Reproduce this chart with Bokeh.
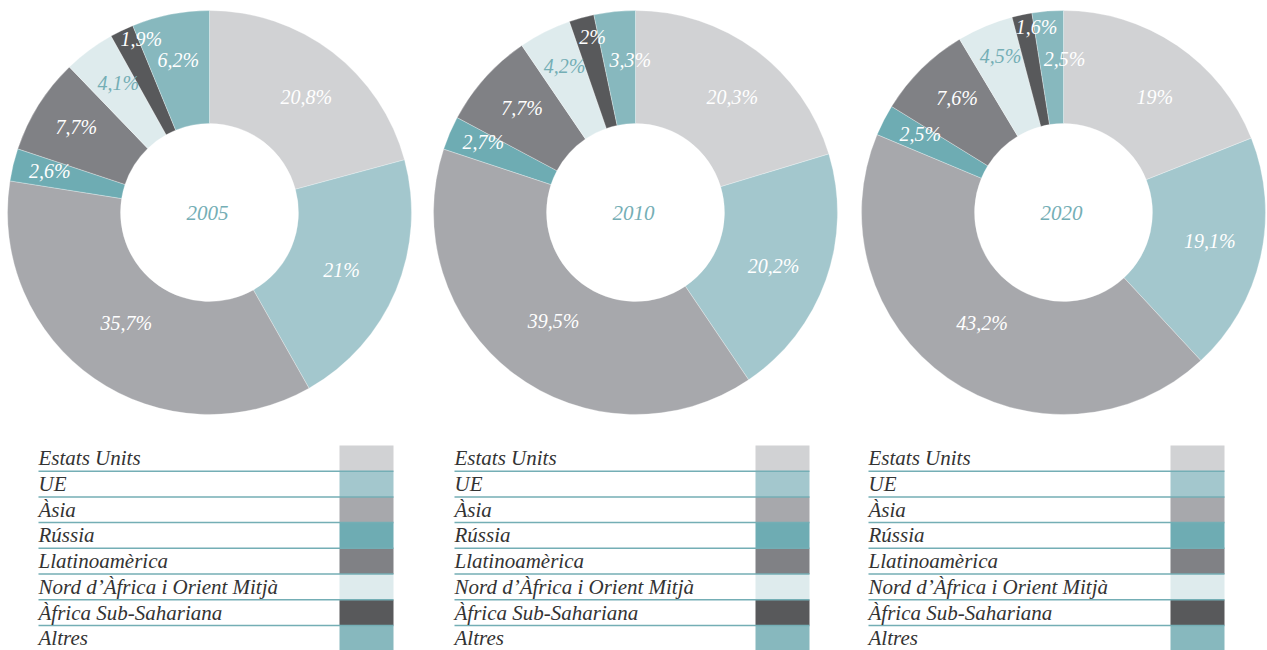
import math
from bokeh.plotting import figure
from bokeh.models import Range1d
from bokeh.core.properties import value
from bokeh.embed import file_html
from bokeh.resources import INLINE

# ---- data ----
categories = ["Estats Units", "UE", "Àsia", "Rússia", "Llatinoamèrica",
              "Nord d’Àfrica i Orient Mitjà", "Àfrica Sub-Sahariana", "Altres"]
years = ["2005", "2010", "2020"]
values_2005 = [20.8, 21.0, 35.7, 2.6, 7.7, 4.1, 1.9, 6.2]
values_2010 = [20.3, 20.2, 39.5, 2.7, 7.7, 4.2, 2.0, 3.3]
values_2020 = [19.0, 19.1, 43.2, 2.5, 7.6, 4.5, 1.6, 2.5]
series = [values_2005, values_2010, values_2020]

# ---- styles / layout ----
colors = ["#d1d2d4", "#a3c7cd", "#a7a8ac", "#6eacb3", "#808185",
          "#deebed", "#58595b", "#87b8be"]
label_colors = ["white", "white", "white", "white", "white",
                "#74aeb5", "white", "white"]
TEAL = "#74aeb5"
FONT = value("Liberation Serif")

centers_x = [209, 635, 1063]
center_y = 212
r_out, r_in = 202, 89
# label placement: (angle clockwise from top in degrees, radius)
label_pos = [
    [(39.9, 151), (113.4, 144), (217, 138), (284.7, 165), (302.6, 158), (324.8, 158), (338.5, 186), (348.5, 156)],
    [(39.9, 151), (111.0, 148), (217, 136), (295.0, 168), (312.6, 154), (334.2, 163), (346.3, 181), (358.1, 153)],
    [(38.4, 147), (100.9, 149), (216.4, 137), (298.6, 163), (317.0, 156), (338.1, 169), (351.7, 187), (0.4, 154)],
]
leg_text_x = [38, 454, 868]
leg_sw_x = [339, 755, 1170]
sw_w = 54
leg_top = 445
row_h = 25.7

W, H = 1267, 650
p = figure(width=W, height=H, output_backend="svg", toolbar_location=None,
           x_range=Range1d(0, W), y_range=Range1d(-H, 0),
           min_border=0, outline_line_color=None)
p.axis.visible = False
p.grid.visible = False
p.background_fill_color = "white"

def fmt(v):
    return ("%g" % v).replace(".", ",") + "%"

for k, vals in enumerate(series):
    cx, cy = centers_x[k], -center_y
    total = sum(vals)
    cum = 0.0
    starts, ends = [], []
    for v in vals:
        f0 = cum / total
        cum += v
        f1 = cum / total
        starts.append(math.pi / 2 - 2 * math.pi * f1)
        ends.append(math.pi / 2 - 2 * math.pi * f0)
    p.annular_wedge(x=[cx] * len(vals), y=[cy] * len(vals), inner_radius=r_in,
                    outer_radius=r_out, start_angle=starts, end_angle=ends,
                    fill_color=colors, line_color="white", line_width=0.6, line_alpha=0.5)
    lx, ly, lt = [], [], []
    for (ang, r), v in zip(label_pos[k], vals):
        a = math.radians(ang)
        lx.append(cx + r * math.sin(a))
        ly.append(cy + r * math.cos(a))
        lt.append(fmt(v))
    p.text(x=lx, y=ly, text=lt, text_color=label_colors, text_font=FONT,
           text_font_style="italic", text_font_size="20px",
           text_align="center", text_baseline="middle")
    p.text(x=[cx - 2], y=[cy], text=[years[k]], text_color=TEAL, text_font=FONT,
           text_font_style="italic", text_font_size="21px",
           text_align="center", text_baseline="middle")

    # legend table
    tx, sx = leg_text_x[k], leg_sw_x[k]
    n = len(categories)
    tops = [-(leg_top + i * row_h) for i in range(n)]
    bots = [-(leg_top + (i + 1) * row_h) for i in range(n)]
    p.quad(left=[sx] * n, right=[sx + sw_w] * n, top=tops, bottom=bots,
           fill_color=colors, line_color=None)
    line_y = [-(leg_top + (i + 1) * row_h) for i in range(n - 1)]
    p.segment(x0=[tx] * (n - 1), x1=[sx + sw_w] * (n - 1), y0=line_y, y1=line_y,
              line_color=TEAL, line_width=1.5)
    p.text(x=[tx] * n, y=[-(leg_top + (i + 0.5) * row_h) for i in range(n)],
           text=categories, text_color="#333333", text_font=FONT,
           text_font_style="italic", text_font_size="21px",
           text_align="left", text_baseline="middle")

open("out.html", "w").write(file_html(p, INLINE))
